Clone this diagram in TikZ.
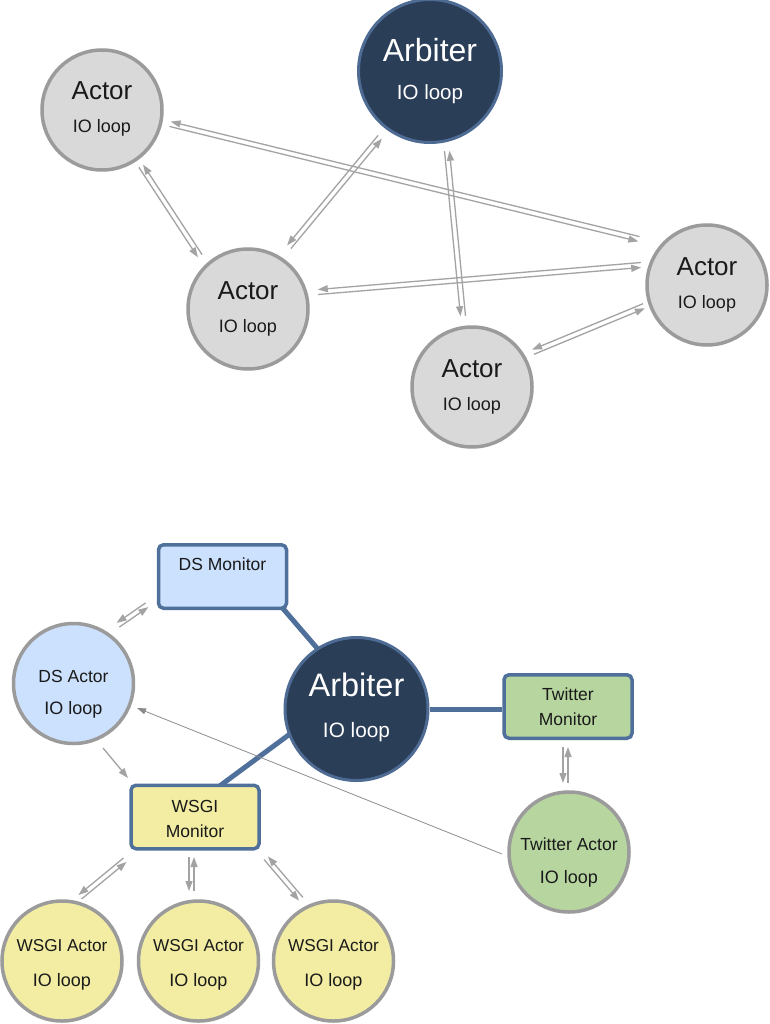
\documentclass[tikz,border=0pt]{standalone}
\usepackage{fontspec}
\setmainfont{Liberation Sans}
\usetikzlibrary{calc,arrows.meta,backgrounds}

\definecolor{actorgray}{HTML}{D9D9D9}
\definecolor{rimgray}{HTML}{9B9B9B}
\definecolor{arbfill}{HTML}{2B3E58}
\definecolor{arbrim}{HTML}{4E6B94}
\definecolor{boxrim}{HTML}{50709C}
\definecolor{dsblue}{HTML}{CCE1FD}
\definecolor{wsgiyellow}{HTML}{F2EDA2}
\definecolor{twgreen}{HTML}{B7D69F}
\definecolor{arrowgray}{HTML}{A3A3A3}
\definecolor{thingray}{HTML}{8C8C8C}
\definecolor{txt}{HTML}{1A1A1A}

\newcommand\fsz[1]{\fontsize{#1}{#1}\selectfont}

\begin{document}
\begin{tikzpicture}[x=1pt,y=-1pt,
  actor/.style={circle, draw=rimgray, line width=3.5pt, fill=#1, minimum size=120pt, inner sep=0pt},
  actor/.default=actorgray,
  arbiter/.style={circle, draw=arbrim, line width=3pt, fill=arbfill, minimum size=143pt, inner sep=0pt},
  monitor/.style={rectangle, rounded corners=5pt, draw=boxrim, line width=3.5pt, fill=#1, minimum width=128pt, minimum height=63.5pt, inner sep=0pt},
  lbl/.style={anchor=base, inner sep=0pt, text=txt},
  wlbl/.style={anchor=base, inner sep=0pt, text=white},
  flow/.style={draw=arrowgray, line width=1.3pt, -{Triangle[length=10pt,width=7pt]}},
  thinflow/.style={draw=thingray, line width=0.8pt, -{Triangle[length=9pt,width=6pt]}},
  link/.style={draw=boxrim, line width=5pt}]

\newcommand\twoway[2]{%
  \coordinate (twA) at (#1);
  \coordinate (twB) at (#2);
  \draw[flow] ($(twA)!2.5pt!-90:(twB)$) -- ($(twB)!2.5pt!90:(twA)$);
  \draw[flow] ($(twB)!2.5pt!-90:(twA)$) -- ($(twA)!2.5pt!90:(twB)$);
}

\useasboundingbox (0,0) rectangle (770,1024);

% ---------- top diagram ----------
\node[actor] (a1) at (102,110) {};
\node[arbiter] (arb1) at (430,71) {};
\node[actor] (a2) at (248,309) {};
\node[actor] (a3) at (707,285) {};
\node[actor] (a4) at (472,387) {};

\node[lbl, font=\fsz{26}] (a1t) at ($(a1)+(0,-10)$) {Actor};
\node[lbl, font=\fsz{18}] (a1s) at ($(a1)+(0,23)$) {IO loop};
\node[lbl, font=\fsz{26}] (a2t) at ($(a2)+(0,-10)$) {Actor};
\node[lbl, font=\fsz{18}] (a2s) at ($(a2)+(0,23)$) {IO loop};
\node[lbl, font=\fsz{26}] (a3t) at ($(a3)+(0,-10)$) {Actor};
\node[lbl, font=\fsz{18}] (a3s) at ($(a3)+(0,23)$) {IO loop};
\node[lbl, font=\fsz{26}] (a4t) at ($(a4)+(0,-10)$) {Actor};
\node[lbl, font=\fsz{18}] (a4s) at ($(a4)+(0,23)$) {IO loop};
\node[wlbl, font=\fsz{32}] (arb1t) at ($(arb1)+(0,-9)$) {Arbiter};
\node[wlbl, font=\fsz{20.5}] (arb1s) at ($(arb1)+(0,29)$) {IO loop};

\twoway{$(a1)+(68,14)$}{$(a3)+(-68,-46)$}
\twoway{$(a1)+(39,56)$}{$(a2)+(-48,-53)$}
\twoway{$(arb1)+(-50,66)$}{$(a2)+(41,-62)$}
\twoway{$(arb1)+(17,80)$}{$(a4)+(-9,-71)$}
\twoway{$(a2)+(70,-17)$}{$(a3)+(-66,-20)$}
\twoway{$(a4)+(61,-35)$}{$(a3)+(-63,21)$}

% ---------- bottom diagram ----------
\node[monitor=dsblue] (dsmon) at (222.5,576.5) {};
\node[actor=dsblue] (dsact) at (73.5,683.5) {};
\node[arbiter] (arb2) at (356.5,709) {};
\node[monitor=twgreen] (twmon) at (568,706.5) {};
\node[actor=twgreen] (twact) at (569,852) {};
\node[monitor=wsgiyellow] (wsgimon) at (195,817) {};
\node[actor=wsgiyellow] (w1) at (62,961) {};
\node[actor=wsgiyellow] (w2) at (198.5,961) {};
\node[actor=wsgiyellow] (w3) at (333.5,961) {};

\node[lbl, font=\fsz{17.5}] (dsmont) at ($(dsmon)+(0,-6.5)$) {DS Monitor};
\node[lbl, font=\fsz{17.5}] (dsactt) at ($(dsact)+(0,-1.5)$) {DS Actor};
\node[lbl, font=\fsz{18}] (dsacts) at ($(dsact)+(0,30.5)$) {IO loop};
\node[wlbl, font=\fsz{32.5}] (arb2t) at ($(arb2)+(0,-13)$) {Arbiter};
\node[wlbl, font=\fsz{20.8}] (arb2s) at ($(arb2)+(0,28)$) {IO loop};
\node[lbl, font=\fsz{17.5}] (twmont) at ($(twmon)+(0,-6.5)$) {Twitter};
\node[lbl, font=\fsz{17.5}] (twmons) at ($(twmon)+(0,18.5)$) {Monitor};
\node[lbl, font=\fsz{17.5}] (twactt) at ($(twact)+(0,-2)$) {Twitter Actor};
\node[lbl, font=\fsz{18}] (twacts) at ($(twact)+(0,31)$) {IO loop};
\node[lbl, font=\fsz{17.5}] (wsgimont) at ($(wsgimon)+(0,-5)$) {WSGI};
\node[lbl, font=\fsz{17.5}] (wsgimons) at ($(wsgimon)+(0,20)$) {Monitor};
\node[lbl, font=\fsz{17.2}] (w1t) at ($(w1)+(0,-10)$) {WSGI Actor};
\node[lbl, font=\fsz{18}] (w1s) at ($(w1)+(0,25)$) {IO loop};
\node[lbl, font=\fsz{17.2}] (w2t) at ($(w2)+(0,-10)$) {WSGI Actor};
\node[lbl, font=\fsz{18}] (w2s) at ($(w2)+(0,25)$) {IO loop};
\node[lbl, font=\fsz{17.2}] (w3t) at ($(w3)+(0,-10)$) {WSGI Actor};
\node[lbl, font=\fsz{18}] (w3s) at ($(w3)+(0,25)$) {IO loop};

\begin{scope}[on background layer]
  \fill[white] (0,0) rectangle (770,1024);
  \draw[link, shorten <=-4pt, shorten >=-6pt] ($(dsmon.south east)+(-4,0)$) -- (arb2.123);
  \draw[link, shorten <=-4pt, shorten >=-6pt] ($(wsgimon.north)+(28,0)$) -- (arb2.201);
  \draw[link] (arb2) -- (arb2 -| twmon.west);
\end{scope}

\twoway{$(dsmon)+(-75.5,28.5)$}{$(dsact)+(44.5,-58.5)$}
\twoway{$(twmon)+(-2.5,40.5)$}{$(twact)+(-3.5,-69)$}
\twoway{$(wsgimon)+(-70,43)$}{$(w1)+(18,-64)$}
\twoway{$(wsgimon)+(-3.5,40)$}{$(w2)+(-7,-70)$}
\twoway{$(wsgimon)+(71,41)$}{$(w3)+(-32.5,-62)$}

\coordinate (dsw1) at ($(dsact)+(29.5,64.5)$);
\coordinate (dsw2) at ($(wsgimon)+(-67,-39)$);
\draw[flow] (dsw1) -- (dsw2);
\coordinate (twd1) at ($(twact)+(-67,2)$);
\coordinate (twd2) at ($(dsact)+(63.5,24.5)$);
\draw[thinflow] (twd1) -- (twd2);

\end{tikzpicture}
\end{document}
